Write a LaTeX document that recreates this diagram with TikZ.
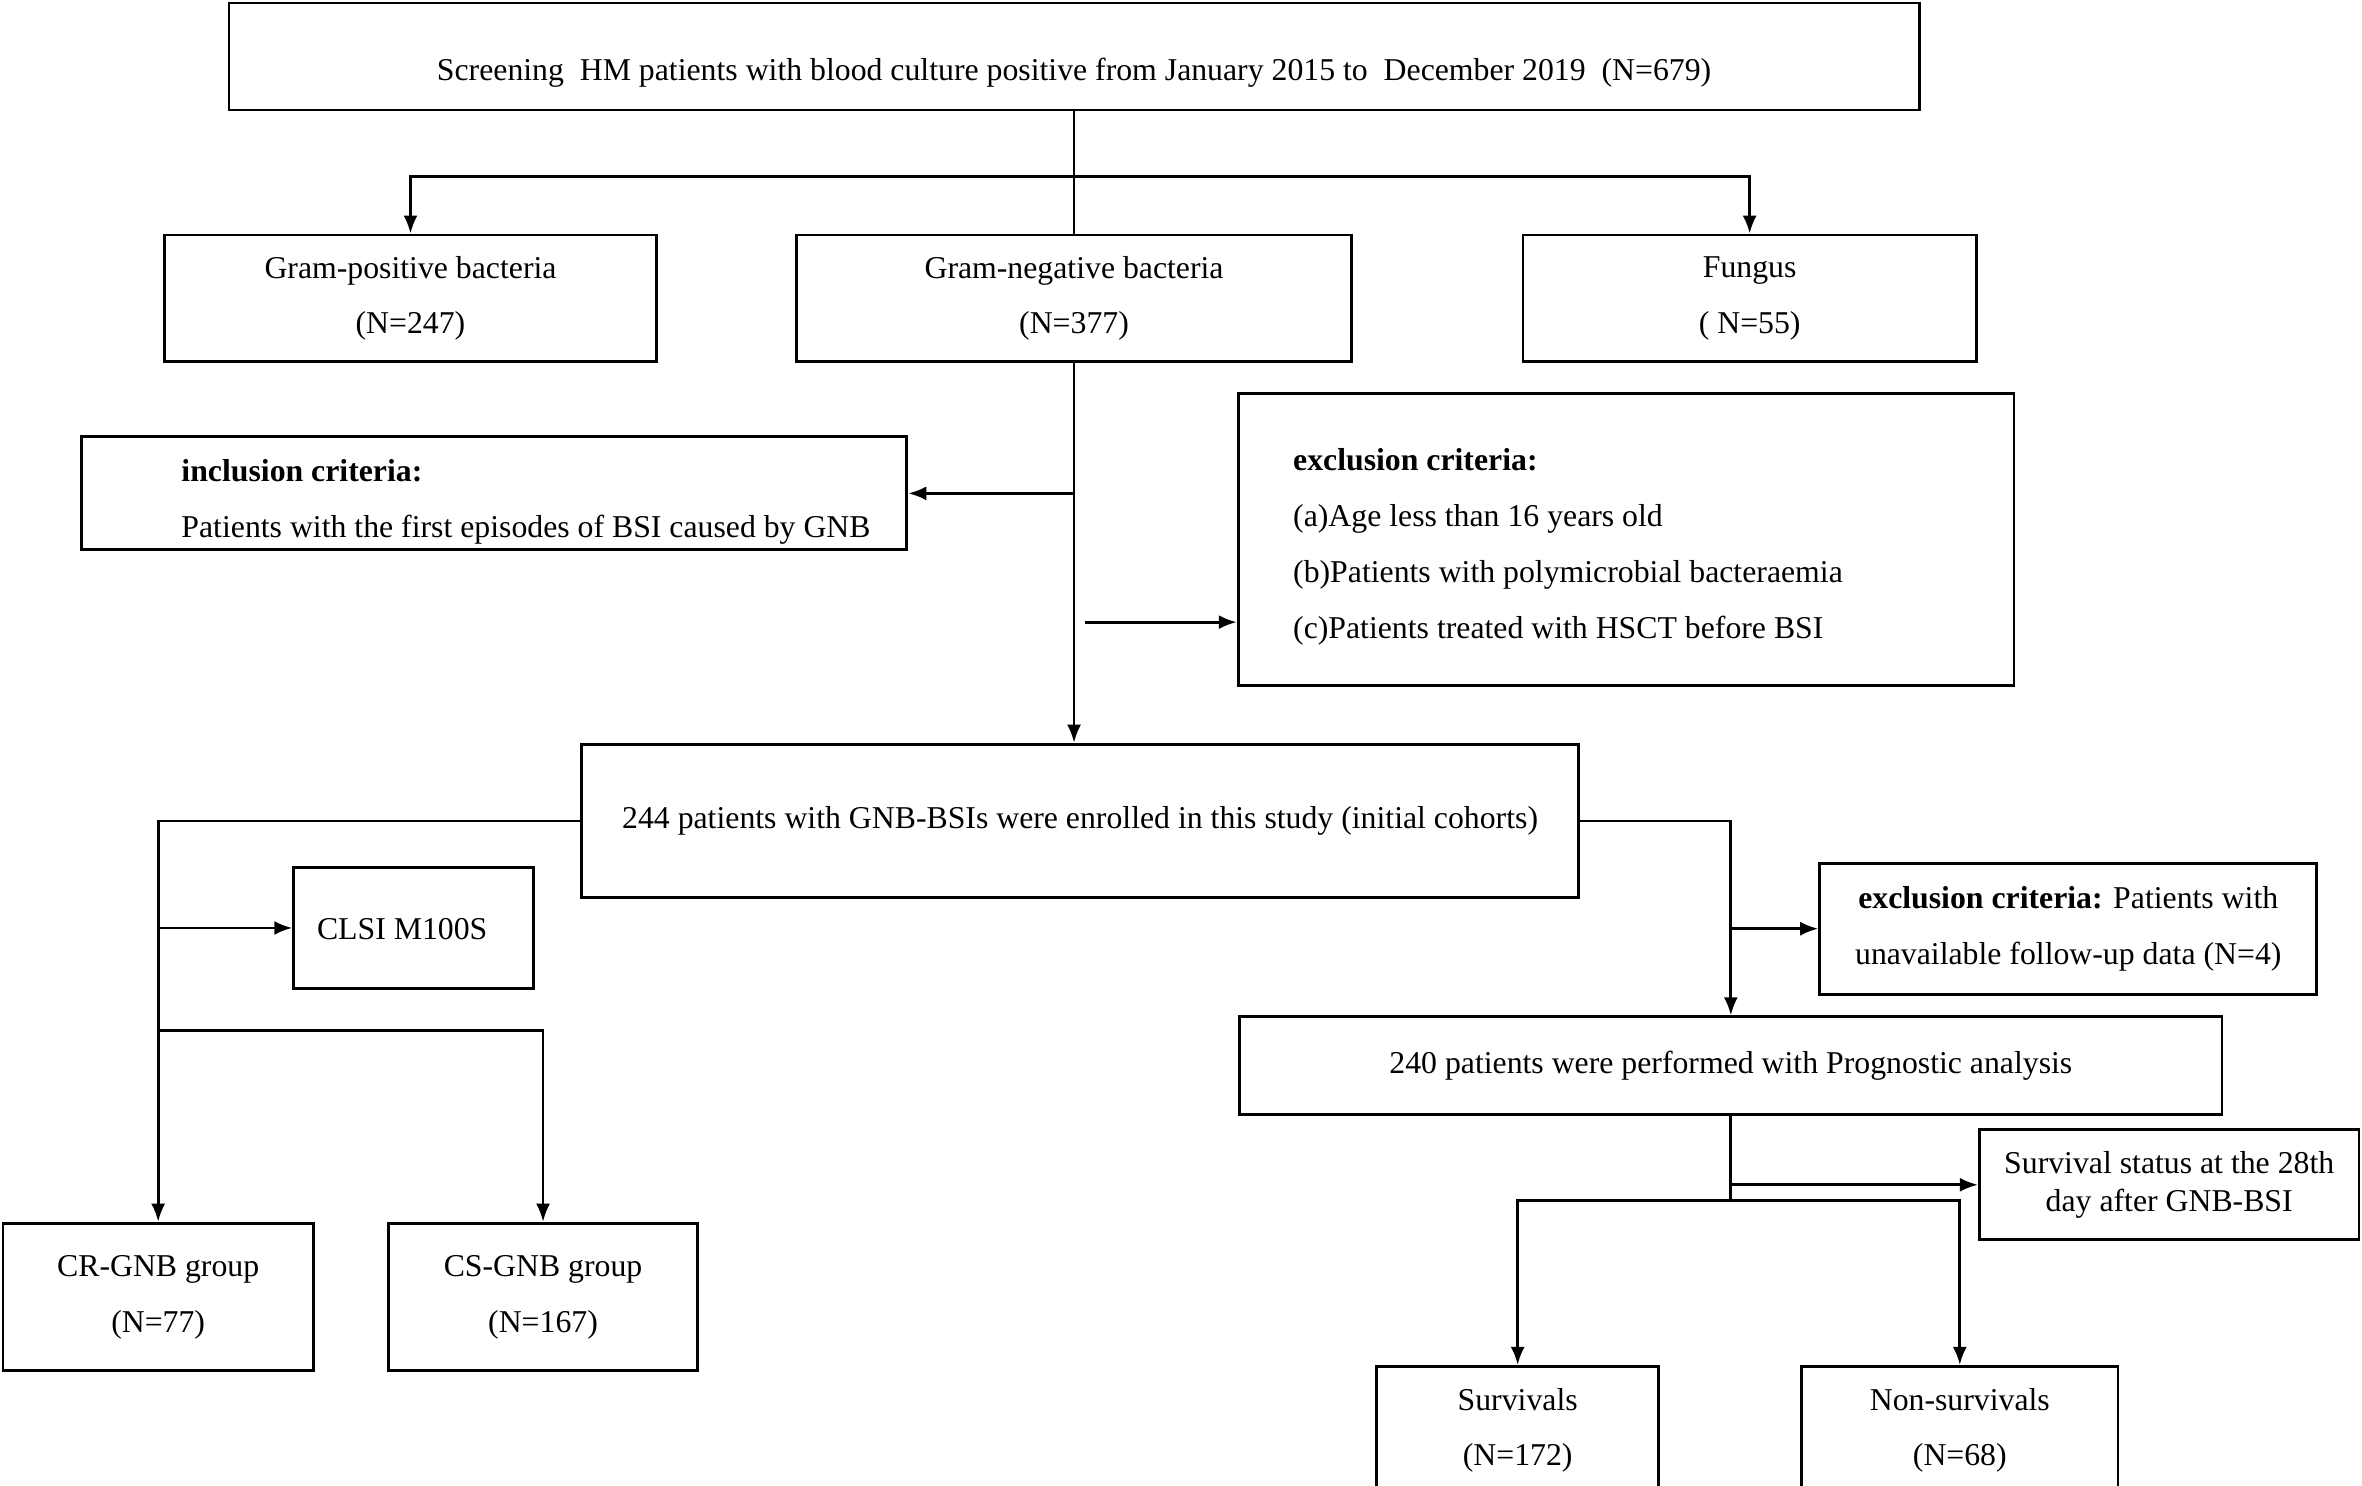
\documentclass[tikz,border=0pt]{standalone}
\usepackage{fontspec}
\setmainfont{Liberation Serif}
\usetikzlibrary{arrows.meta,positioning}

\tikzset{
  box/.style={draw, line width=0.8pt, inner sep=0pt, align=center},
  sz/.style 2 args={minimum width=#1*0.15mm, minimum height=#2*0.15mm},
  txt/.style={inner sep=0pt, align=left},
  line/.style={line width=0.8pt},
  arr/.style={line width=0.8pt, -{Latex[length=1.8mm,width=1.4mm]}}
}

\begin{document}
\begin{tikzpicture}[x=0.15mm, y=-0.15mm, font=\fontsize{9}{15.8}\selectfont]
    \useasboundingbox (0,0) rectangle (1568,986);
    % boxes
    \node[box, sz={1122}{71}] (screen) at (713,37.5) {};
    \node[txt] (screentext) at (713,48) {Screening\ \ HM patients with blood culture positive from January 2015 to\ \ December 2019\ \ (N=679)};
    \node[box, sz={327}{84}] (grampos) at (272.5,198) {Gram-positive bacteria\\(N=247)};
    \node[box, sz={368}{84}] (gramneg) at (713,198) {Gram-negative bacteria\\(N=377)};
    \node[box, sz={301}{84}] (fungus) at (1161.5,198) {Fungus\\( N=55)};
    \node[box, sz={548}{75}] (incl) at (328,327.5) {};
    \node[txt, anchor=west] (incltext) at (120,333) {\textbf{inclusion criteria:}\\Patients with the first episodes of BSI caused by GNB};
    \node[box, sz={515}{194}] (excl) at (1079.5,358) {};
    \node[txt, anchor=west] (excltext) at (858,363) {\textbf{exclusion criteria:}\\(a)Age less than 16 years old\\(b)Patients with polymicrobial bacteraemia\\(c)Patients treated with HSCT before BSI};
    \node[box, sz={662}{102}] (enrol) at (717,545) {244 patients with GNB-BSIs were enrolled in this study (initial cohorts)};
    \node[box, sz={159}{80}] (clsi) at (274.5,616) {};
    \node[txt, anchor=west] (clsitext) at (210,617) {CLSI M100S};
    \node[box, sz={330}{87}] (followup) at (1373,616.5) {\textbf{exclusion criteria:} Patients with\\unavailable follow-up data (N=4)};
    \node[box, sz={652}{65}] (prog) at (1149,707.5) {240 patients were performed with Prognostic analysis};
    \node[box, sz={252}{73}, font=\fontsize{9}{10.8}\selectfont] (status) at (1440,786.5) {Survival status at the 28th\\day after GNB-BSI};
    \node[box, sz={206}{98}] (crgnb) at (105,861) {CR-GNB group\\(N=77)};
    \node[box, sz={205}{98}] (csgnb) at (360.5,861) {CS-GNB group\\(N=167)};
    \node[box, sz={187}{85}] (surv) at (1007.5,949.5) {Survivals\\(N=172)};
    \node[box, sz={210}{85}] (nonsurv) at (1301,949.5) {Non-survivals\\(N=68)};
    % connectors
    \coordinate (split) at (713,117);
    \draw[line] (screen.south) -- (split);
    \draw[arr] (split) -| (grampos.north);
    \draw[arr] (split) -| (fungus.north);
    \draw[line] (split) -- (gramneg.north);
    \draw[arr] (gramneg.south) -- (gramneg.south |- enrol.north);
    \draw[arr] (gramneg.south |- incl.east) -- (incl.east);
    \coordinate (exclfrom) at (720,413);
    \draw[arr] (exclfrom) -- (exclfrom -| excl.west);
    \draw[arr] (enrol.west) -| (crgnb.north);
    \draw[arr] (crgnb.north |- clsi.west) -- (clsi.west);
    \coordinate (csfrom) at (105,684);
    \draw[arr] (csfrom) -| (csgnb.north);
    \draw[arr] (enrol.east) -| (prog.north);
    \draw[arr] (prog.north |- followup.west) -- (followup.west);
    \coordinate (split2) at (1149,797);
    \draw[line] (prog.south) -- (split2);
    \draw[arr] (split2) -| (surv.north);
    \draw[arr] (split2) -| (nonsurv.north);
    \draw[arr] (prog.south |- status.west) -- (status.west);
\end{tikzpicture}
\end{document}
